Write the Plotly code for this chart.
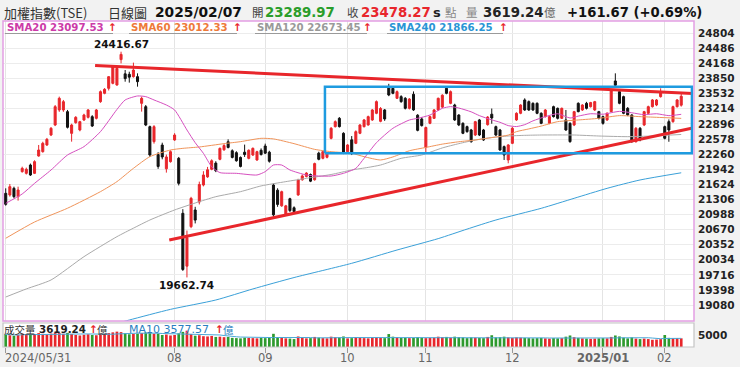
import plotly.graph_objects as go
import pandas as pd

# ---------------- data ----------------
opens = [
    21434, 21399, 21539, 21364, 21890, 21855, 22030, 21855, 22220, 22311,
    22452, 22662, 22873, 23189, 23189, 23154, 22697, 22922, 22768, 22978,
    23034, 23048, 23013, 23364, 23540, 23645, 23750, 23715, 24250, 23950,
    23940, 23891, 23891, 23329, 23259, 22838, 22522, 22250, 22450, 21950,
    22101, 22557, 22171, 21013, 19900, 20732, 21083, 21250, 21609, 21780,
    21940, 22070, 22150, 22350, 22520, 22330, 22290, 22190, 22300, 22170,
    22241, 22135, 22340, 22430, 22300, 21609, 21500, 21170, 21000, 21320,
    21130, 21400, 21720, 21790, 21830, 21720, 22280, 22171, 22192, 22592,
    22838, 23013, 22698, 22311, 22560, 22487, 22698, 22838, 22873, 22979,
    23119, 22950, 23190, 23680, 23645, 23435, 23470, 23435, 23224, 23520,
    23080, 23000, 22400, 22908, 23013, 23189, 23250, 23645, 23329, 23294,
    23083, 22908, 22838, 22768, 22662, 22979, 22768, 22880, 23100, 22838,
    22768, 22417, 22136, 22487, 22979, 23119, 23400, 23365, 23329, 23329,
    23119, 23049, 22908, 23259, 23224, 23013, 22979, 22908, 22873, 23329,
    23189, 23329, 23259, 23189, 23154, 23049, 22979, 23154, 23800, 23575,
    23470, 23224, 23084, 22522, 22803, 22873, 23119, 23259, 23294, 23470,
    22838, 22943, 22943, 23259, 23289.97,
]
highs = [
    21539, 21630, 21574, 21574, 21995, 21975, 22060, 22130, 22452, 22520,
    22600, 22830, 23294, 23470, 23400, 23190, 22900, 23060, 22960, 23110,
    23210, 23080, 23210, 23600, 23650, 23900, 24120, 24100, 24416.67, 24031,
    23995, 24186, 23961, 23470, 23294, 22860, 22870, 22300, 22500, 22250,
    22340, 22700, 22200, 21100, 20650, 21360, 21150, 21680, 21900, 21990,
    22150, 22110, 22400, 22470, 22571, 22360, 22320, 22210, 22460, 22360,
    22400, 22330, 22380, 22480, 22330, 21640, 21540, 21490, 21190, 21340,
    21160, 21740, 21830, 21880, 21850, 22080, 22310, 22330, 22310, 22830,
    22970, 23040, 22720, 22470, 22640, 22760, 22890, 23000, 23070, 23210,
    23390, 23250, 23210, 23740, 23680, 23600, 23500, 23460, 23440, 23580,
    23100, 23040, 22840, 23070, 23210, 23450, 23520, 23694, 23600, 23320,
    23100, 22930, 22860, 22790, 22960, 23000, 22790, 23060, 23220, 22860,
    22790, 22440, 22470, 22830, 23140, 23310, 23435, 23390, 23350, 23350,
    23140, 23210, 23070, 23280, 23240, 23240, 23189, 22930, 23170, 23350,
    23310, 23360, 23360, 23380, 23170, 23070, 23140, 23630, 23961, 23600,
    23490, 23250, 23100, 22830, 22830, 23170, 23280, 23420, 23420, 23645,
    22860, 22990, 23280, 23420, 23540,
]
lows = [
    21174, 21364, 21330, 21280, 21870, 21830, 21800, 21840, 22206, 22290,
    22430, 22640, 22850, 23150, 23150, 22800, 22522, 22900, 22740, 22960,
    23010, 22830, 22990, 23340, 23520, 23600, 23730, 23700, 24170, 23785,
    23765, 23870, 23680, 23154, 22850, 22200, 22480, 21950, 22150, 21870,
    22080, 22540, 21600, 19800, 19662.74, 20700, 20800, 21200, 21580, 21760,
    21920, 21880, 22130, 22330, 22380, 22170, 22100, 21980, 22200, 22150,
    22220, 22120, 22230, 22260, 22080, 20940, 21150, 21150, 20970, 21040,
    21030, 21380, 21700, 21770, 21670, 21700, 22130, 22150, 22170, 22570,
    22820, 22820, 22260, 22290, 22240, 22470, 22680, 22820, 22860, 22960,
    23100, 22930, 22960, 23480, 23520, 23420, 23340, 23200, 23200, 23170,
    22740, 22840, 22290, 22890, 23000, 23170, 23230, 23520, 23310, 22960,
    22850, 22680, 22710, 22500, 22640, 22640, 22540, 22860, 22900, 22640,
    22330, 22136, 22066, 22470, 22960, 23100, 23170, 23170, 23170, 23100,
    22890, 23030, 22890, 23030, 22990, 23000, 22750, 22500, 22850, 23140,
    23170, 23200, 23240, 23170, 22990, 22880, 22960, 23140, 23690, 23310,
    23100, 23060, 22500, 22500, 22530, 22850, 23100, 23240, 23270, 23450,
    22570, 22520, 22920, 23240, 23260,
]
closes = [
    21202, 21574, 21364, 21504, 21960, 21940, 21820, 22101, 22346, 22487,
    22571, 22803, 23259, 23435, 23364, 22824, 22873, 23034, 22943, 23084,
    23189, 22852, 23189, 23575, 23624, 23891, 24100, 24066, 24360, 23850,
    23880, 24031, 23785, 23434, 22873, 22241, 22838, 22000, 22200, 22200,
    22311, 22662, 21644, 19830, 20501, 21328, 20870, 21620, 21820, 21930,
    22120, 21910, 22380, 22440, 22400, 22190, 22120, 22000, 22250, 22340,
    22381, 22311, 22250, 22280, 22110, 20980, 21200, 21469, 21170, 21070,
    21050, 21714, 21800, 21860, 21690, 22060, 22150, 22311, 22290, 22803,
    22943, 22838, 22276, 22452, 22270, 22733, 22874, 22979, 23049, 23189,
    23365, 23220, 23000, 23505, 23540, 23575, 23365, 23224, 23420, 23190,
    22760, 22860, 22820, 23049, 23189, 23435, 23500, 23540, 23575, 22979,
    22874, 22698, 22733, 22522, 22943, 22662, 22557, 23040, 23020, 22662,
    22346, 22241, 22452, 22803, 23119, 23294, 23189, 23189, 23189, 23119,
    22908, 23189, 23049, 23049, 23013, 23224, 22768, 22522, 23154, 23154,
    23294, 23224, 23345, 23365, 23013, 22908, 23119, 23610, 23710, 23330,
    23119, 23084, 22522, 22803, 22557, 23154, 23259, 23400, 23400, 23575,
    22592, 22768, 23259, 23400, 23478.27,
]
volumes = [
    5200, 4900, 4700, 5100, 5600, 5300, 5000, 5400, 5800, 5500,
    5300, 5600, 6000, 5800, 5500, 5900, 5400, 5000, 4800, 5100,
    5300, 5000, 4900, 5600, 5400, 5800, 6100, 6400, 6200, 5700,
    5300, 5500, 5600, 5800, 6000, 6200, 5500, 5600, 5000, 5200,
    4800, 5000, 5700, 6300, 6800, 5400, 4700, 4900, 4500, 4400,
    4600, 4200, 4300, 4100, 4200, 3800, 3700, 3600, 3900, 3800,
    3700, 3600, 3800, 3700, 3900, 5500, 4100, 3800, 3600, 3500,
    3300, 4400, 3900, 3600, 3700, 4200, 3900, 3700, 3600, 4300,
    4100, 4000, 4400, 3600, 3700, 4100, 3900, 3700, 3600, 3900,
    4000, 3800, 3700, 5400, 4300, 4000, 3800, 3900, 3700, 3800,
    4100, 3900, 3700, 3800, 3900, 4300, 4100, 4200, 3900, 4300,
    4100, 4000, 3700, 4000, 3900, 3800, 3700, 4200, 4900, 4000,
    4100, 4300, 4000, 3800, 4000, 3900, 3800, 3700, 3600, 3700,
    3800, 3600, 3500, 3700, 3600, 3700, 4300, 4800, 4100, 3800,
    3600, 3500, 3400, 3500, 3600, 3700, 3600, 4200, 4800, 4400,
    3900, 3600, 4000, 3500, 3300, 3500, 3300, 3000, 3100, 3300,
    5000, 3800, 3700, 3700, 3619.24,
]

# moving-average lines (index: value)
sma20_idx = [0, 4, 7, 11, 15, 19, 23, 27, 29, 32, 34, 36, 39, 41, 44, 46, 48, 50, 52, 56,
             61, 63, 65, 67, 69, 73, 76, 79, 82, 85, 87, 90, 94, 98, 100, 103, 106, 108, 110, 113,
             115, 118, 120, 122, 124, 126, 128, 131, 134, 137, 139, 142, 145, 149, 152, 155, 158, 161, 164]
sma20_val = [21223, 21420, 21644, 21925, 22241, 22417, 22733, 23200, 23400, 23484, 23470, 23400, 23294, 23189, 22768, 22500, 22276, 21995, 21870, 21855,
             21820, 21890, 22030, 22030, 21925, 21820, 21798, 21798, 21855, 21960, 22171, 22500, 22803, 22978, 23013, 23083, 23224, 23259, 23230, 23150,
             23070, 22980, 22930, 22860, 22840, 22880, 22960, 23049, 23110, 23020, 23060, 23110, 23100, 23160, 23130, 23090, 23110, 23070, 23097.53]
sma60_idx = [0, 7, 15, 23, 27, 31, 35, 40, 43, 47, 53, 57, 62, 65, 70, 75, 79, 84, 87, 91,
             94, 98, 102, 106, 110, 114, 119, 122, 124, 127, 130, 134, 139, 144, 149, 154, 158, 164]
sma60_val = [20487, 20830, 21120, 21469, 21680, 21960, 22206, 22346, 22381, 22410, 22480, 22522, 22592, 22580, 22480, 22360, 22311, 22276, 22206, 22136,
             22200, 22330, 22400, 22470, 22520, 22557, 22620, 22660, 22733, 22790, 22850, 22943, 22979, 23013, 23070, 23049, 23035, 23012.33]
sma120_idx = [0, 5, 11, 19, 27, 31, 35, 41, 46, 51, 57, 62, 68, 73, 79, 84, 88, 91, 96, 101,
              106, 110, 114, 118, 122, 126, 130, 138, 144, 151, 157, 164]
sma120_val = [19250, 19420, 19609, 20100, 20521, 20700, 20872, 21083, 21230, 21363, 21469, 21590, 21680, 21750, 21830, 21925, 21980, 22030, 22171, 22241,
              22390, 22480, 22557, 22610, 22641, 22655, 22662, 22662, 22641, 22627, 22641, 22673.45]
sma240_idx = [25, 30, 40, 51, 60, 70, 84, 95, 105, 112, 119, 130, 138, 146, 154, 164]
sma240_val = [18650, 18766, 18990, 19187, 19420, 19660, 19960, 20240, 20480, 20680, 20872, 21118, 21329, 21539, 21715, 21866.25]

# hand-drawn trend lines and consolidation box (index, value)
trend_upper_idx = [21.7, 166.8]
trend_upper_val = [24126, 23536]
trend_lower_idx = [39.7, 166.8]
trend_lower_val = [20451, 22810]
box_idx = [77.5, 166.6]
box_val = [22277, 23679]

month_ticks = [0, 41, 63, 83, 102, 123, 145, 160]
month_labels = ["2024/05/31", "08", "09", "10", "11", "12", "2025/01", "02"]
price_ticks = [24804, 24486, 24168, 23850, 23532, 23214, 22896, 22578, 22260, 21942,
               21624, 21306, 20988, 20670, 20352, 20034, 19716, 19398, 19080]
vol_ticks = [5000]

date_text = "2025/02/07"
open_last = 23289.97
close_last = 23478.27
vol_last = 3619.24
change_last = 161.67
change_pct = 0.69
vol_ma10_last = 3577.57
high_mark = (28, 24416.67)
low_mark = (44, 19662.74)

assert len(opens) == len(highs) == len(lows) == len(closes) == len(volumes)

# ---------------- style ----------------
W, H = 740, 367
RED = "#e8262b"
BLACK = "#111111"
GREEN = "#2e9a2e"
PINK = "#d64fbf"
ORANGE = "#f0945a"
GRAY = "#aaaaaa"
BLUE = "#3aa0d8"
FONT = "DejaVu Sans"
CJK = "Noto Sans CJK TC"


def px(x):
    return x / W


def py(y):
    return 1 - y / H


x = list(range(len(closes)))
up = [c >= o for o, c in zip(opens, closes)]

fig = go.Figure()
fig.add_trace(go.Candlestick(
    x=x, open=opens, high=highs, low=lows, close=closes,
    increasing=dict(line=dict(color=RED, width=1), fillcolor=RED),
    decreasing=dict(line=dict(color=BLACK, width=1), fillcolor=BLACK),
    whiskerwidth=0, hoverinfo="skip", showlegend=False, xaxis="x", yaxis="y"))

for idx, val, col in [(sma240_idx, sma240_val, BLUE), (sma120_idx, sma120_val, GRAY),
                      (sma60_idx, sma60_val, ORANGE), (sma20_idx, sma20_val, PINK)]:
    fig.add_trace(go.Scatter(x=idx, y=val, mode="lines", line=dict(color=col, width=1, shape="spline", smoothing=0.6),
                             hoverinfo="skip", showlegend=False, xaxis="x", yaxis="y"))

# trend lines
fig.add_trace(go.Scatter(x=trend_upper_idx, y=trend_upper_val, mode="lines", line=dict(color=RED, width=3),
                         hoverinfo="skip", showlegend=False, xaxis="x", yaxis="y"))
fig.add_trace(go.Scatter(x=trend_lower_idx, y=trend_lower_val, mode="lines", line=dict(color=RED, width=3),
                         hoverinfo="skip", showlegend=False, xaxis="x", yaxis="y"))
# box
fig.add_trace(go.Scatter(x=[box_idx[0], box_idx[1], box_idx[1], box_idx[0], box_idx[0]],
                         y=[box_val[0], box_val[0], box_val[1], box_val[1], box_val[0]],
                         mode="lines", line=dict(color="#1e9be0", width=2.5),
                         hoverinfo="skip", showlegend=False, xaxis="x", yaxis="y"))

# volume
vcol = [RED if u else GREEN for u in up]
fig.add_trace(go.Bar(x=x, y=volumes, marker=dict(color=vcol, line=dict(width=0)),
                     hoverinfo="skip", showlegend=False, xaxis="x2", yaxis="y2"))
vol_ma10 = pd.Series(volumes).rolling(10, min_periods=1).mean()
fig.add_trace(go.Scatter(x=x, y=vol_ma10, mode="lines", line=dict(color="#4aa8d8", width=1),
                         hoverinfo="skip", showlegend=False, xaxis="x2", yaxis="y2"))

xr = [-0.66, 167.1]
fig.update_layout(
    width=W, height=H, margin=dict(l=0, r=0, t=0, b=0),
    paper_bgcolor="#f2f2f2", plot_bgcolor="#ffffff",
    font=dict(family=FONT, size=11, color="#222"),
    bargap=0.35, showlegend=False,
    xaxis=dict(domain=[px(3), px(694)], range=xr, tickvals=month_ticks, showticklabels=False,
               showgrid=True, gridcolor="#e4e4e4", gridwidth=1, zeroline=False, ticks="",
               rangeslider=dict(visible=False), anchor="y"),
    yaxis=dict(domain=[py(321), py(21)], range=[18745, 25063], side="right", tickvals=price_ticks,
               ticktext=[str(v) for v in price_ticks],
               tickfont=dict(family=FONT, size=10.5, color="#222", weight="bold"),
               showgrid=True, gridcolor="#ececec", zeroline=False, ticks="", ticklabelstandoff=3,
               anchor="x", automargin=False),
    xaxis2=dict(domain=[px(3), px(694)], range=xr, matches="x", tickvals=month_ticks,
                showticklabels=False, ticks="outside", ticklen=5, tickcolor="#999", tickwidth=1,
                showgrid=False, zeroline=False, anchor="y2"),
    yaxis2=dict(domain=[py(347), py(323)], range=[0, 10000], side="right", tickvals=vol_ticks,
                ticktext=[str(v) for v in vol_ticks],
                tickfont=dict(family=FONT, size=10.5, color="#222", weight="bold"),
                showgrid=False, zeroline=False, ticks="", ticklabelstandoff=3, anchor="x2",
                automargin=False),
)

shapes = [
    dict(type="rect", xref="paper", yref="paper", x0=px(3), x1=px(694), y0=py(321), y1=py(21),
         line=dict(color="#e39ee3", width=1.5), fillcolor="rgba(0,0,0,0)", layer="above"),
    dict(type="rect", xref="paper", yref="paper", x0=px(3), x1=px(694), y0=py(347), y1=py(323),
         line=dict(color="#c4c4c4", width=1.2), fillcolor="rgba(0,0,0,0)", layer="above"),
]
# legend underlines
for x0, x1 in [(5, 113), (129, 237), (255, 367), (387, 503)]:
    shapes.append(dict(type="line", xref="paper", yref="paper", x0=px(x0), x1=px(x1), y0=py(33.5), y1=py(33.5),
                       line=dict(color="#9a9a9a", width=1)))
fig.update_layout(shapes=shapes)

ann = []


def txt(xp, yp, s, color="#222", size=11, bold=False, family=FONT, anchor="left"):
    ann.append(dict(xref="paper", yref="paper", x=px(xp), y=py(yp), text=s, showarrow=False,
                    xanchor=anchor, yanchor="middle",
                    font=dict(family=family, size=size, color=color, weight="bold" if bold else "normal")))


# title row
txt(2, 12, "加權指數(TSE)", "#333", 13, family=CJK)
txt(106, 12, "日線圖", "#333", 13, family=CJK)
txt(153, 12, date_text, "#111", 13.8, True)
txt(250, 12, "開", "#444", 11.5, family=CJK)
txt(263, 12, f"{open_last:.2f}", "#2a9d2a", 13.3, True)
txt(345, 12, "收", "#444", 11.5, family=CJK)
txt(359, 12, f"{close_last:.2f}", RED, 13.3, True)
txt(431, 12, "s", "#222", 13, True)
txt(443, 12, "點", "#888", 11.5, family=CJK)
txt(464, 12, "量", "#888", 11.5, family=CJK)
txt(481, 12, f"{vol_last:.2f}", "#222", 13.3, True)
txt(542, 12, "億", "#666", 11.5, family=CJK)
txt(565, 12, f"+{change_last:.2f} (+{change_pct:.2f}%)", "#111", 13.2, True)

# SMA legend row
leg = [(5, 106, "SMA20", sma20_val[-1], "#cc3aa8"), (129, 231, "SMA60", sma60_val[-1], "#ee7a3a"),
       (255, 361, "SMA120", sma120_val[-1], "#9a9a9a"), (387, 497, "SMA240", sma240_val[-1], "#2a95d5")]
for xs, xa, name, v, c in leg:
    txt(xs, 27.5, f"{name} {v:.2f}", c, 10.2, True)
    txt(xa, 27.5, "↑", RED, 10.5, True)

# volume label row
txt(2, 329, "成交量", "#333", 10.5, family=CJK)
txt(37, 329, f"{vol_last:.2f}", "#222", 10.3, True)
txt(87, 329, "↑", RED, 10.5, True)
txt(95, 329, "億", "#333", 10.5, family=CJK)
txt(127, 329, f"MA10 {vol_ma10_last:.2f}", "#2a7fc0", 11)
txt(213, 329, "↑", RED, 10.5, True)
txt(221, 329, "億", "#2a7fc0", 10.5, family=CJK)

# extreme price labels
ann.append(dict(x=high_mark[0], y=high_mark[1], xref="x", yref="y", text=f"{high_mark[1]:.2f}",
                showarrow=False, xanchor="center", yanchor="bottom", yshift=0,
                font=dict(family=FONT, size=10.5, color="#111", weight="bold")))
ann.append(dict(x=low_mark[0], y=low_mark[1], xref="x", yref="y", text=f"{low_mark[1]:.2f}",
                showarrow=False, xanchor="center", yanchor="top", yshift=0,
                font=dict(family=FONT, size=10.5, color="#111", weight="bold")))

# x labels
for i, (t, lab) in enumerate(zip(month_ticks, month_labels)):
    ann.append(dict(x=t, y=py(358), xref="x2", yref="paper", text=lab, showarrow=False,
                    xanchor="left" if i == 0 else "center", xshift=-3 if i == 0 else 0, yanchor="middle",
                    font=dict(family=FONT, size=11.5, color="#666",
                              weight="bold" if lab.startswith("2025") else "normal")))

fig.update_layout(annotations=ann)
fig.write_html("out.html", config={"displayModeBar": False, "staticPlot": True},
               post_script="document.body.style.margin='0';document.body.style.background='#f2f2f2';document.body.style.overflow='hidden';")
